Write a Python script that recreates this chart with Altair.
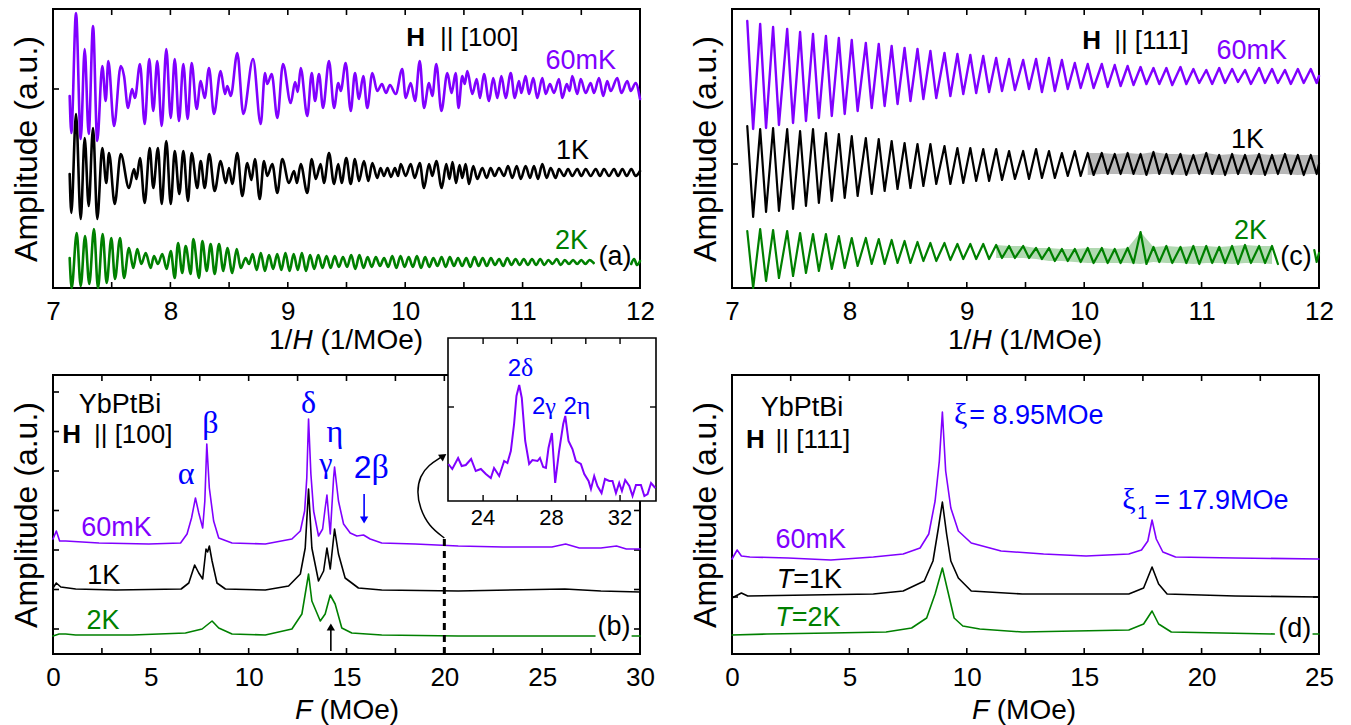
import altair as alt
import pandas as pd

PURPLE = "#8000FF"
GREEN = "#008000"
BLUE = "#0000FF"
BLACK = "#000000"
SANS = "Liberation Sans"
SERIF = "Liberation Serif"
W, H = 587, 279
TICK = 6

# ---------------- panel (a): 1/H oscillations, H || [100] ----------------
A_X_LABELS = [7, 8, 9, 10, 11, 12]
A_X_TICKS = [7.5, 8, 8.5, 9, 9.5, 10, 10.5, 11, 11.5]
A_Y_TICKS = [19.9]

A_P_X = [
    7.142, 7.156, 7.196, 7.236, 7.270, 7.304, 7.341, 7.377, 7.420, 7.449,
    7.471, 7.520, 7.577, 7.605, 7.639, 7.673, 7.698, 7.741, 7.781, 7.820,
    7.854, 7.888, 7.926, 7.965, 8.003, 8.037, 8.073, 8.110, 8.147, 8.181,
    8.224, 8.258, 8.292, 8.329, 8.371, 8.428, 8.465, 8.485, 8.514, 8.570,
    8.621, 8.704, 8.769, 8.806, 8.825, 8.863, 8.911, 8.959, 9.025, 9.062,
    9.085, 9.110, 9.166, 9.204, 9.232, 9.266, 9.300, 9.351, 9.394, 9.430,
    9.451, 9.493, 9.536, 9.572, 9.606, 9.643, 9.677, 9.720, 9.762, 9.802,
    9.836, 9.870, 9.919, 9.975, 10.004, 10.047, 10.084, 10.124, 10.160, 10.203,
    10.231, 10.265, 10.308, 10.359, 10.395, 10.430, 10.454, 10.486, 10.507, 10.529,
    10.572, 10.609, 10.637, 10.671, 10.714, 10.750, 10.785, 10.819, 10.856, 10.899,
    10.933, 10.969, 10.989, 11.026, 11.055, 11.091, 11.125, 11.168, 11.197, 11.233,
    11.267, 11.310, 11.338, 11.376, 11.400, 11.423, 11.466, 11.495, 11.537, 11.580,
    11.608, 11.651, 11.687, 11.721, 11.750, 11.807, 11.841, 11.892, 11.921, 11.963,
    12.000]
A_P_Y = [
    19.2, 15.5, 27.5, 14.9, 23.9, 15.4, 26.2, 14.7, 22.2, 18.7,
    22.7, 16.2, 22.2, 21.2, 18.0, 19.9, 19.0, 22.4, 16.4, 22.9,
    17.7, 22.7, 16.2, 23.9, 17.0, 22.9, 16.7, 22.4, 16.9, 22.5,
    17.9, 20.7, 19.0, 22.0, 17.4, 21.7, 19.4, 20.2, 19.2, 23.5,
    17.4, 22.9, 16.4, 21.5, 20.4, 21.4, 17.0, 22.4, 18.5, 20.6,
    19.6, 22.0, 17.2, 21.5, 18.7, 21.4, 18.0, 22.7, 18.0, 20.5,
    19.7, 22.5, 17.7, 21.5, 18.9, 21.2, 18.0, 21.5, 19.7, 20.4,
    19.5, 20.3, 19.4, 21.9, 19.0, 20.5, 18.7, 22.7, 18.0, 20.5,
    19.2, 22.4, 17.7, 21.5, 19.5, 21.5, 18.0, 21.2, 20.4, 21.7,
    19.4, 20.9, 19.0, 21.4, 18.7, 21.0, 19.0, 21.2, 19.0, 21.5,
    19.0, 20.7, 19.5, 21.2, 19.4, 21.0, 19.0, 21.0, 19.4, 20.4,
    19.5, 20.9, 19.0, 20.4, 19.7, 21.2, 19.4, 20.9, 19.5, 20.5,
    19.5, 21.0, 19.2, 20.7, 19.7, 21.0, 19.5, 20.7, 19.7, 20.5,
    18.9]

A_K_X = [
    7.142, 7.156, 7.196, 7.236, 7.270, 7.304, 7.341, 7.377, 7.420, 7.454,
    7.477, 7.526, 7.577, 7.647, 7.690, 7.711, 7.741, 7.781, 7.824, 7.854,
    7.894, 7.926, 7.965, 8.003, 8.037, 8.076, 8.110, 8.150, 8.181, 8.229,
    8.258, 8.292, 8.331, 8.377, 8.428, 8.471, 8.499, 8.527, 8.570, 8.612,
    8.655, 8.690, 8.720, 8.761, 8.797, 8.825, 8.868, 8.911, 8.953, 9.010,
    9.053, 9.078, 9.110, 9.166, 9.204, 9.238, 9.280, 9.308, 9.351, 9.394,
    9.430, 9.459, 9.498, 9.536, 9.572, 9.606, 9.649, 9.686, 9.720, 9.762,
    9.790, 9.819, 9.849, 9.879, 9.913, 9.939, 9.962, 10.004, 10.047, 10.081,
    10.124, 10.160, 10.203, 10.231, 10.265, 10.311, 10.350, 10.377, 10.403, 10.433,
    10.463, 10.486, 10.515, 10.543, 10.580, 10.614, 10.657, 10.694, 10.728, 10.762,
    10.799, 10.842, 10.876, 10.912, 10.950, 10.984, 11.026, 11.063, 11.097, 11.131,
    11.168, 11.205, 11.239, 11.282, 11.310, 11.353, 11.387, 11.423, 11.466, 11.500,
    11.537, 11.580, 11.623, 11.659, 11.693, 11.736, 11.779, 11.813, 11.850, 11.887,
    11.926, 11.963, 12.000]
A_K_Y = [
    11.4, 7.5, 17.4, 6.9, 15.0, 8.2, 16.0, 6.9, 14.0, 10.5,
    13.5, 8.4, 13.4, 10.0, 11.9, 10.9, 13.0, 8.5, 14.0, 10.0,
    14.0, 8.4, 14.7, 8.4, 13.7, 9.4, 13.7, 8.7, 13.5, 10.0,
    12.7, 10.0, 13.4, 9.7, 12.7, 10.5, 12.0, 10.4, 13.5, 9.2,
    12.5, 10.8, 12.9, 8.9, 12.7, 11.2, 12.4, 9.5, 12.9, 10.5,
    11.7, 10.5, 12.4, 9.5, 12.9, 10.9, 12.4, 10.5, 13.5, 10.4,
    12.4, 10.5, 13.0, 10.4, 12.9, 10.7, 12.7, 10.7, 12.5, 11.0,
    12.0, 11.2, 12.0, 11.1, 12.0, 11.2, 12.4, 11.2, 12.4, 11.0,
    12.5, 10.0, 12.4, 11.2, 12.7, 10.0, 12.4, 10.9, 12.6, 10.5,
    12.3, 11.0, 12.4, 10.4, 12.2, 10.9, 12.0, 11.0, 12.0, 11.2,
    12.0, 11.2, 12.2, 11.0, 12.2, 10.9, 12.2, 11.0, 12.2, 10.9,
    12.4, 11.0, 12.0, 11.0, 11.9, 11.2, 11.9, 11.2, 11.9, 11.2,
    11.9, 11.2, 11.9, 11.2, 11.9, 11.2, 11.9, 11.2, 11.9, 11.2,
    11.9, 11.2, 11.7]

A_G_X = [
    7.142, 7.159, 7.202, 7.236, 7.273, 7.309, 7.349, 7.383, 7.423, 7.457,
    7.497, 7.528, 7.571, 7.605, 7.647, 7.684, 7.718, 7.752, 7.790, 7.832,
    7.860, 7.894, 7.931, 7.968, 8.003, 8.037, 8.065, 8.101, 8.130, 8.173,
    8.195, 8.244, 8.272, 8.309, 8.343, 8.377, 8.414, 8.451, 8.485, 8.527,
    8.565, 8.599, 8.641, 8.670]
A_G_Y = [
    3.0, 0.0, 5.5, 0.2, 5.2, 0.4, 5.9, 0.0, 5.4, 0.5,
    5.0, 0.9, 5.0, 1.0, 4.0, 2.0, 3.9, 2.4, 3.5, 2.0,
    3.2, 2.4, 3.4, 1.9, 3.7, 1.0, 4.5, 1.5, 4.2, 1.4,
    4.9, 1.0, 4.7, 1.7, 4.4, 1.4, 4.4, 1.7, 4.0, 1.5,
    3.9, 2.0, 3.0, 2.4]
A_G_TAIL_X = [
    8.700, 8.735, 8.770, 8.805, 8.840, 8.875, 8.910, 8.945, 8.980, 9.015,
    9.050, 9.085, 9.120, 9.155, 9.190, 9.225, 9.260, 9.295, 9.330, 9.365,
    9.400, 9.435, 9.470, 9.505, 9.540, 9.575, 9.610, 9.645, 9.680, 9.715,
    9.750, 9.785, 9.820, 9.855, 9.890, 9.925, 9.960, 9.995, 10.030, 10.065,
    10.100, 10.135, 10.170, 10.205, 10.240, 10.275, 10.310, 10.345, 10.380, 10.415,
    10.450, 10.485, 10.520, 10.555, 10.590, 10.625, 10.660, 10.695, 10.730, 10.765,
    10.800, 10.835, 10.870, 10.905, 10.940, 10.975, 11.010, 11.045, 11.080, 11.115,
    11.150, 11.185, 11.220, 11.255, 11.290, 11.325, 11.360, 11.395, 11.430, 11.465,
    11.500, 11.535, 11.570, 11.605]
A_G_TAIL_Y = [
    3.4, 1.8, 3.5, 1.7, 3.3, 1.9, 3.4, 1.8, 3.5, 1.7,
    3.4, 1.8, 3.5, 1.7, 3.3, 1.9, 3.3, 2.0, 3.2, 2.0,
    3.2, 2.1, 3.1, 2.1, 3.3, 1.9, 3.3, 2.0, 3.1, 2.1,
    3.1, 2.2, 3.0, 2.1, 3.2, 2.0, 3.2, 2.1, 3.1, 2.1,
    3.2, 2.0, 3.1, 2.1, 3.0, 2.2, 3.1, 2.1, 3.1, 2.2,
    3.0, 2.2, 3.0, 2.1, 3.1, 2.2, 3.0, 2.2, 3.0, 2.3,
    2.9, 2.2, 3.0, 2.3, 2.9, 2.3, 2.9, 2.3, 2.9, 2.3,
    2.9, 2.3, 2.8, 2.4, 2.9, 2.3, 2.8, 2.4, 2.8, 2.4,
    2.8, 2.4, 2.8, 2.5]
A_G_END_X = [11.925, 11.950, 11.975, 12.000]
A_G_END_Y = [2.4, 2.9, 2.3, 2.7]

# ---------------- panel (c): 1/H oscillations, H || [111] ----------------
C_X_LABELS = [7, 8, 9, 10, 11, 12]
C_X_TICKS = [7.5, 8, 8.5, 9, 9.5, 10, 10.5, 11, 11.5]
C_Y_TICKS = [12.4]
C_MAX_X = [
    7.13, 7.24, 7.35, 7.47, 7.58, 7.69, 7.80, 7.91, 8.02, 8.14,
    8.25, 8.36, 8.47, 8.58, 8.69, 8.81, 8.92, 9.03, 9.14, 9.25,
    9.36, 9.48, 9.59, 9.70, 9.81, 9.92, 10.03, 10.15, 10.26, 10.37,
    10.48, 10.59, 10.70, 10.82, 10.93, 11.04, 11.15, 11.26, 11.37, 11.49,
    11.60, 11.71, 11.82, 11.93]
C_MIN_X = [
    7.18, 7.29, 7.40, 7.52, 7.63, 7.74, 7.85, 7.96, 8.07, 8.19,
    8.30, 8.41, 8.52, 8.63, 8.74, 8.86, 8.97, 9.08, 9.19, 9.30,
    9.41, 9.53, 9.64, 9.75, 9.86, 9.97, 10.08, 10.20, 10.31, 10.42,
    10.53, 10.64, 10.75, 10.87, 10.98, 11.09, 11.20, 11.31, 11.42, 11.54,
    11.65, 11.76, 11.87, 11.98]
C_P_MAX = [
    26.7, 26.4, 26.1, 25.9, 25.6, 25.4, 25.2, 25.0, 24.8, 24.5,
    24.4, 24.2, 24.0, 23.9, 23.7, 23.5, 23.4, 23.3, 23.2, 23.0,
    22.9, 22.8, 22.9, 23.0, 22.8, 22.5, 22.4, 22.4, 22.3, 22.2,
    22.1, 22.0, 22.0, 22.1, 21.9, 21.8, 22.0, 21.9, 21.8, 22.0,
    21.9, 21.8, 21.9, 21.9]
C_P_MIN = [
    15.9, 16.0, 16.3, 16.5, 16.7, 17.0, 17.2, 17.4, 17.7, 18.0,
    18.2, 18.4, 18.7, 18.9, 19.0, 19.2, 19.4, 19.5, 19.6, 19.7,
    19.8, 19.9, 19.6, 19.7, 19.9, 20.0, 20.0, 20.1, 20.2, 20.3,
    20.4, 20.4, 20.3, 20.4, 20.5, 20.4, 20.5, 20.6, 20.4, 20.5,
    20.5, 20.4, 20.5, 20.5]
C_P_END = 21.2
C_K_MAX = [
    16.2, 15.9, 16.0, 15.9, 15.7, 15.9, 15.5, 15.4, 15.2, 15.0,
    14.9, 14.7, 14.5, 14.4, 14.4, 14.2, 14.0, 14.0, 13.9, 13.9,
    13.7, 13.7, 13.9, 13.7, 13.5, 13.7, 13.5, 13.5, 13.4, 13.5,
    13.4, 13.6, 13.4, 13.4, 13.3, 13.5, 13.3, 13.4, 13.3, 13.4,
    13.3, 13.4, 13.3, 13.3]
C_K_MIN = [
    7.1, 7.6, 7.7, 7.9, 8.2, 8.5, 8.7, 9.0, 9.2, 9.4,
    9.7, 9.9, 10.0, 10.2, 10.4, 10.4, 10.5, 10.7, 10.7, 10.8,
    10.9, 10.9, 11.0, 11.0, 11.2, 11.2, 11.3, 11.4, 11.4, 11.4,
    11.3, 11.4, 11.4, 11.3, 11.4, 11.4, 11.3, 11.4, 11.4, 11.3,
    11.4, 11.4, 11.3, 11.4]
C_K_END = 12.4
C_G_MAX = [
    5.7, 5.9, 5.8, 5.7, 5.5, 5.4, 5.4, 5.2, 5.0, 5.0,
    4.9, 4.8, 4.7, 4.6, 4.5, 4.5, 4.4, 4.4, 4.4, 4.3,
    4.2, 4.2, 4.0, 4.0, 3.9, 3.9, 4.0, 4.0, 3.9, 4.0,
    5.6, 4.1, 4.2, 4.1, 4.2, 4.2, 4.1, 4.2, 4.3, 4.2,
    4.2, 4.3, 4.2, 4.2]
C_G_MIN = [
    0.0, 0.7, 1.0, 1.2, 1.5, 1.7, 1.9, 2.0, 2.2, 2.4,
    2.4, 2.5, 2.5, 2.7, 2.7, 2.8, 2.9, 2.9, 2.9, 3.0,
    3.0, 3.0, 2.9, 2.7, 2.7, 2.6, 2.5, 2.5, 2.5, 2.5,
    2.4, 2.6, 2.5, 2.5, 2.4, 2.5, 2.5, 2.4, 2.5, 2.5,
    2.4, 2.5, 2.4, 2.5]
C_G_CYCLES = 41
C_G_END_X = [11.96, 11.98, 12.00]
C_G_END_Y = [3.8, 2.6, 3.5]
C_BAND_K_FROM = 26   # cycle index where the 1K trace turns into a noisy band
C_BAND_G_FROM = 19   # same for 2K

# ---------------- panel (b): FFT, H || [100] ----------------
B_X_LABELS = [0, 5, 10, 15, 20, 25, 30]
B_X_TICKS = [2.5, 5, 7.5, 10, 12.5, 15, 17.5, 20, 22.5, 25, 27.5]
B_Y_TICKS = [2.5, 6.45, 10.4, 14.35, 18.3, 22.25, 26.2]
B_P_F = [0.0, 0.17, 0.34, 0.65, 2.35, 4.90, 6.52, 6.85, 7.08, 7.28,
         7.45, 7.65, 7.76, 7.86, 7.99, 8.21, 8.47, 9.15, 10.85, 12.21,
         12.64, 12.86, 12.97, 13.06, 13.18, 13.32, 13.57, 13.78, 13.91, 14.00,
         14.17, 14.34, 14.39, 14.59, 14.85, 15.19, 15.53, 15.87, 16.21, 16.80,
         18.51, 20.71, 23.00, 25.50, 26.20, 26.90, 28.00, 28.80, 29.30, 30.00]
B_P_A = [11.5, 12.3, 11.3, 11.3, 11.1, 11.0, 11.1, 12.0, 13.6, 15.6,
         14.1, 12.6, 15.3, 21.0, 16.6, 13.3, 11.6, 11.1, 11.0, 11.5,
         12.3, 14.3, 17.6, 23.5, 18.0, 14.3, 11.8, 12.5, 14.6, 15.9,
         12.0, 17.6, 18.7, 15.3, 13.0, 12.1, 11.8, 11.9, 11.5, 11.1,
         11.0, 10.8, 10.7, 10.7, 11.0, 10.6, 10.6, 10.8, 10.5, 10.5]
B_K_F = [0.0, 0.17, 0.40, 1.16, 3.20, 6.55, 6.94, 7.24, 7.45, 7.65,
         7.82, 7.90, 7.99, 8.13, 8.38, 8.81, 10.85, 12.04, 12.64, 12.89,
         13.06, 13.23, 13.57, 13.83, 14.00, 14.17, 14.39, 14.59, 14.93, 15.61,
         16.80, 20.71, 26.16, 28.00, 30.00]
B_K_A = [6.6, 7.1, 6.7, 6.5, 6.4, 6.5, 7.1, 8.9, 8.1, 7.5,
         10.5, 10.2, 10.8, 9.3, 7.1, 6.5, 6.4, 6.8, 8.0, 10.6,
         16.5, 10.6, 7.3, 8.3, 10.6, 8.5, 12.5, 10.0, 7.6, 6.6,
         6.4, 6.3, 6.5, 6.3, 6.2]
B_G_F = [0.0, 0.31, 0.65, 1.16, 4.05, 6.77, 7.62, 8.13, 8.47, 9.15,
         10.85, 12.21, 12.72, 13.06, 13.23, 13.66, 13.91, 14.17, 14.42, 14.76,
         15.27, 16.80, 20.71, 27.70]
B_G_A = [1.8, 2.0, 2.0, 1.9, 1.9, 2.1, 2.5, 3.3, 2.6, 2.0,
         1.9, 2.5, 4.0, 8.0, 5.3, 3.3, 4.0, 5.9, 5.0, 2.6,
         2.1, 1.9, 1.8, 1.8]
B_G_END_F = [29.6, 30.0]
B_G_END_A = [1.8, 1.8]
B_DASH_F = [20.0]
B_DASH_TOP = [11.8]
B_ARC_F = [20.0, 19.2, 18.75, 18.6, 18.75, 19.2, 19.85]
B_ARC_A = [11.6, 12.8, 14.6, 16.2, 17.8, 18.9, 19.7]
B_ARC_HEAD = (19.95, 19.8)
B_ARROW_2B = (15.9, 16.0, 13.4)   # F, from, to
B_ARROW_UP = (14.2, 0.3, 2.7)

# inset of (b)
IN_X_DOMAIN = [21.95, 34.1]
IN_Y_DOMAIN = [0.0, 16.3]
IN_X_TICKS = [24, 26, 28, 30, 32]
IN_X_LABELS = [24, 28, 32]
IN_Y_TICKS = [9.4]
IN_F = [21.97, 22.20, 22.54, 22.75, 22.99, 23.30, 23.57, 23.87, 24.16, 24.45,
        24.64, 24.94, 25.23, 25.42, 25.62, 25.81, 25.95, 26.11, 26.26, 26.46,
        26.69, 26.88, 27.18, 27.32, 27.51, 27.67, 27.82, 28.02, 28.21, 28.44,
        28.68, 28.80, 28.99, 29.22, 29.42, 29.71, 29.91, 30.16, 30.30, 30.49,
        30.68, 30.92, 31.12, 31.37, 31.56, 31.76, 31.95, 32.11, 32.30, 32.54,
        32.73, 32.93, 33.22, 33.42, 33.61, 33.81, 34.06]
IN_A = [3.7, 3.2, 4.3, 3.5, 3.6, 4.2, 3.0, 3.2, 2.7, 2.3,
        3.3, 2.5, 4.0, 3.8, 5.0, 7.7, 10.5, 11.6, 10.3, 6.0,
        3.7, 4.1, 4.0, 4.3, 3.4, 3.3, 5.3, 6.8, 1.8, 5.0,
        7.7, 8.5, 6.0, 5.2, 4.0, 3.7, 2.7, 2.0, 1.2, 2.5,
        1.5, 0.8, 2.2, 2.0, 2.0, 0.8, 1.8, 1.0, 2.1, 1.5,
        0.5, 1.6, 1.6, 0.5, 0.7, 1.8, 1.3]

# ---------------- panel (d): FFT, H || [111] ----------------
D_X_LABELS = [0, 5, 10, 15, 20, 25]
D_X_TICKS = [2.5, 5, 7.5, 10, 12.5, 15, 17.5, 20, 22.5]
D_Y_TICKS = [5.7]
D_P_F = [0.0, 0.22, 0.40, 0.76, 2.39, 4.21, 6.02, 7.29, 8.01, 8.38,
         8.65, 8.83, 8.96, 9.10, 9.32, 9.64, 10.19, 11.46, 13.27, 15.08,
         16.90, 17.44, 17.71, 17.89, 18.07, 18.35, 18.89, 21.43, 25.0]
D_P_A = [9.5, 10.4, 9.8, 9.7, 9.6, 9.4, 9.7, 10.0, 10.6, 12.0,
         15.3, 19.3, 24.2, 18.3, 14.6, 12.3, 11.1, 10.3, 10.0, 9.8,
         10.0, 10.4, 11.3, 13.4, 11.5, 10.2, 9.7, 9.6, 9.5]
D_K_F = [0.0, 0.40, 0.67, 3.30, 6.02, 7.29, 8.19, 8.56, 8.79, 8.96,
         9.14, 9.32, 9.64, 10.19, 12.36, 16.90, 17.53, 17.89, 18.17, 18.53,
         21.43, 25.0]
D_K_A = [5.6, 6.1, 5.8, 5.9, 6.0, 6.3, 7.3, 9.3, 12.6, 15.2,
         12.0, 9.3, 7.6, 6.3, 6.0, 6.0, 6.6, 8.7, 7.0, 6.0,
         5.8, 5.7]
D_G_F = [0.0, 1.49, 4.21, 6.56, 7.65, 8.29, 8.65, 8.96, 9.19, 9.46,
         9.83, 10.55, 12.36, 16.90, 17.53, 17.89, 18.17, 18.71, 23.10]
D_G_A = [1.9, 2.0, 2.1, 2.2, 2.6, 3.6, 6.0, 8.6, 6.3, 3.6,
         2.8, 2.5, 2.2, 2.4, 3.0, 4.3, 3.0, 2.2, 2.0]
D_G_END_F = [24.75, 25.0]
D_G_END_A = [2.0, 2.0]

ONE = pd.DataFrame({"d": [0]})


def interleave(a, b):
    out = []
    for p, q in zip(a, b):
        out += [p, q]
    return out


def line_df(xs, ys, seg="s1"):
    return pd.DataFrame({"x": xs, "y": ys, "seg": [seg] * len(xs)})


def make_enc(xdom, ydom, xlabels):
    xs = alt.Scale(domain=xdom, nice=False, zero=False)
    ys = alt.Scale(domain=ydom, nice=False, zero=False)
    xa = alt.Axis(values=xlabels, title=None, ticks=False, tickSize=0, domain=False, grid=False,
                  labelFont=SANS, labelFontSize=26, labelColor=BLACK, labelPadding=10,
                  format="d", labelOverlap=False, labelFlush=False)
    ya = alt.Axis(title="Amplitude (a.u.)", labels=False, ticks=False, tickSize=0, domain=False,
                  grid=False, titleFont=SANS, titleFontSize=32, titleFontWeight="normal",
                  titleColor=BLACK, titlePadding=10)
    X = lambda f: alt.X(f, type="quantitative", scale=xs, axis=xa)
    Y = lambda f: alt.Y(f, type="quantitative", scale=ys, axis=ya)
    return X, Y


def trace(df, X, Y, color, width, interp="linear"):
    return alt.Chart(df).mark_line(color=color, strokeWidth=width, interpolate=interp,
                                   strokeJoin="round", strokeCap="round").encode(
        x=X("x"), y=Y("y"), detail="seg:N")


def frame():
    return alt.Chart(ONE).mark_rect(filled=False, stroke=BLACK, strokeWidth=2).encode(
        x=alt.value(0), x2=alt.value(W), y=alt.value(0), y2=alt.value(H))


def ticks(X, Y, xt, yt, right=False):
    dfx = pd.DataFrame({"v": xt})
    dfy = pd.DataFrame({"v": yt})
    r = dict(color=BLACK, strokeWidth=1.6)
    out = [
        alt.Chart(dfx).mark_rule(**r).encode(x=X("v"), y=alt.value(H), y2=alt.value(H - TICK)),
        alt.Chart(dfx).mark_rule(**r).encode(x=X("v"), y=alt.value(0), y2=alt.value(TICK)),
        alt.Chart(dfy).mark_rule(**r).encode(y=Y("v"), x=alt.value(0), x2=alt.value(TICK)),
    ]
    if right:
        out.append(alt.Chart(dfy).mark_rule(**r).encode(y=Y("v"), x=alt.value(W), x2=alt.value(W - TICK)))
    return out


def txt(X, Y, x, y, s, color=BLACK, size=27, font=SANS, align="center", style="normal", weight="normal"):
    df = pd.DataFrame({"x": [x], "y": [y]})
    return alt.Chart(df).mark_text(text=s, color=color, fontSize=size, font=font, align=align,
                                   baseline="alphabetic", fontStyle=style, fontWeight=weight).encode(
        x=X("x"), y=Y("y"))


def ptxt(px, py, s, size=28, style="normal", align="left"):
    return alt.Chart(ONE).mark_text(text=s, color=BLACK, fontSize=size, font=SANS, align=align,
                                    baseline="alphabetic", fontStyle=style).encode(
        x=alt.value(px), y=alt.value(py))


def title_inv_h():
    return [ptxt(239.4, 340, "1/", align="right"), ptxt(239.4, 340, "H", style="italic"),
            ptxt(267.4, 340, "(1/MOe)")]


# ---------------- build (a) ----------------
XA, YA = make_enc([7, 12], [0, 27.9], A_X_LABELS)
a_green = pd.concat([line_df(A_G_X + A_G_TAIL_X, A_G_Y + A_G_TAIL_Y, "s1"),
                     line_df(A_G_END_X, A_G_END_Y, "s2")])
a_layers = [frame()] + ticks(XA, YA, A_X_TICKS, A_Y_TICKS) + [
    trace(a_green, XA, YA, GREEN, 2.6, "monotone"),
    trace(line_df(A_K_X, A_K_Y), XA, YA, BLACK, 2.6, "monotone"),
    trace(line_df(A_P_X, A_P_Y), XA, YA, PURPLE, 2.6, "monotone"),
    txt(XA, YA, 10.169, 24.2, "H", size=26, align="right", weight="bold"),
    txt(XA, YA, 10.296, 24.2, "|| [100]", size=26, align="left"),
    txt(XA, YA, 11.796, 21.9, "60mK", color=PURPLE, align="right"),
    txt(XA, YA, 11.566, 12.9, "1K", align="right"),
    txt(XA, YA, 11.557, 3.9, "2K", color=GREEN, align="right"),
    txt(XA, YA, 11.787, 2.3, "(a)"),
] + title_inv_h()
panel_a = alt.layer(*a_layers).properties(width=W, height=H)

# ---------------- build (c) ----------------
XC, YC = make_enc([7, 12], [0, 27.9], C_X_LABELS)
cx = interleave(C_MAX_X, C_MIN_X)
c_p = line_df(cx + [12.0], interleave(C_P_MAX, C_P_MIN) + [C_P_END])
c_k = line_df(cx + [12.0], interleave(C_K_MAX, C_K_MIN) + [C_K_END])
c_g_y = interleave(C_G_MAX, C_G_MIN)
c_g = pd.concat([line_df(cx[:2 * C_G_CYCLES], c_g_y[:2 * C_G_CYCLES], "s1"),
                 line_df(C_G_END_X, C_G_END_Y, "s2")])
band_k = pd.DataFrame({"x": C_MAX_X[C_BAND_K_FROM:] + [12.0],
                       "hi": C_K_MAX[C_BAND_K_FROM:] + [C_K_MAX[-1]],
                       "lo": C_K_MIN[C_BAND_K_FROM:] + [C_K_MIN[-1]]})
band_g = pd.DataFrame({"x": C_MAX_X[C_BAND_G_FROM:C_G_CYCLES],
                       "hi": C_G_MAX[C_BAND_G_FROM:C_G_CYCLES],
                       "lo": C_G_MIN[C_BAND_G_FROM:C_G_CYCLES]})
c_layers = [frame()] + ticks(XC, YC, C_X_TICKS, C_Y_TICKS) + [
    alt.Chart(band_g).mark_area(color=GREEN, opacity=0.3).encode(x=XC("x"), y=YC("hi"), y2=alt.Y2("lo")),
    alt.Chart(band_k).mark_area(color=BLACK, opacity=0.28).encode(x=XC("x"), y=YC("hi"), y2=alt.Y2("lo")),
    trace(c_g, XC, YC, GREEN, 2.2),
    trace(c_k, XC, YC, BLACK, 2.2),
    trace(c_p, XC, YC, PURPLE, 2.4),
    txt(XC, YC, 10.144, 23.9, "H", size=26, align="right", weight="bold"),
    txt(XC, YC, 10.255, 23.9, "|| [111]", size=26, align="left"),
    txt(XC, YC, 11.727, 22.9, "60mK", color=PURPLE, align="right"),
    txt(XC, YC, 11.532, 14.0, "1K", align="right"),
    txt(XC, YC, 11.557, 4.9, "2K", color=GREEN, align="right"),
    txt(XC, YC, 11.804, 2.3, "(c)"),
] + title_inv_h()
panel_c = alt.layer(*c_layers).properties(width=W, height=H)

# ---------------- build (b) ----------------
XB, YB = make_enc([0, 30], [0, 27.9], B_X_LABELS)
b_green = pd.concat([line_df(B_G_F, B_G_A, "s1"), line_df(B_G_END_F, B_G_END_A, "s2")])
dash_df = pd.DataFrame({"x": B_DASH_F, "y0": [0.0], "y1": B_DASH_TOP})
arc_df = pd.DataFrame({"x": B_ARC_F, "y": B_ARC_A, "o": list(range(len(B_ARC_F)))})
head_df = pd.DataFrame({"x": [B_ARC_HEAD[0]], "y": [B_ARC_HEAD[1]]})
a2b = pd.DataFrame({"x": [B_ARROW_2B[0]], "y0": [B_ARROW_2B[1]], "y1": [B_ARROW_2B[2]]})
aup = pd.DataFrame({"x": [B_ARROW_UP[0]], "y0": [B_ARROW_UP[1]], "y1": [B_ARROW_UP[2]]})
b_layers = [frame()] + ticks(XB, YB, B_X_TICKS, B_Y_TICKS, right=True) + [
    trace(b_green, XB, YB, GREEN, 1.6),
    trace(line_df(B_K_F, B_K_A), XB, YB, BLACK, 1.6),
    trace(line_df(B_P_F, B_P_A), XB, YB, PURPLE, 1.6),
    alt.Chart(dash_df).mark_rule(color=BLACK, strokeWidth=3, strokeDash=[7, 5]).encode(
        x=XB("x"), y=YB("y0"), y2=alt.Y2("y1")),
    alt.Chart(arc_df).mark_line(color=BLACK, strokeWidth=1.5, interpolate="basis").encode(
        x=XB("x"), y=YB("y"), order="o:Q"),
    alt.Chart(head_df).mark_point(shape="triangle-up", filled=True, color=BLACK, size=70,
                                  angle=55, opacity=1).encode(x=XB("x"), y=YB("y")),
    alt.Chart(a2b).mark_rule(color=BLUE, strokeWidth=1.6).encode(x=XB("x"), y=YB("y0"), y2=alt.Y2("y1")),
    alt.Chart(a2b).mark_point(shape="triangle-down", filled=True, color=BLUE, size=70, opacity=1).encode(
        x=XB("x"), y=YB("y1")),
    alt.Chart(aup).mark_rule(color=BLACK, strokeWidth=1.6).encode(x=XB("x"), y=YB("y0"), y2=alt.Y2("y1")),
    alt.Chart(aup).mark_point(shape="triangle-up", filled=True, color=BLACK, size=70, opacity=1).encode(
        x=XB("x"), y=YB("y1")),
    txt(XB, YB, 3.42, 24.1, "YbPtBi"),
    txt(XB, YB, 1.43, 21.1, "H", size=26, align="right", weight="bold"),
    txt(XB, YB, 2.09, 21.1, "|| [100]", size=26, align="left"),
    txt(XB, YB, 6.81, 17.0, "α", color=BLUE, size=32, font=SERIF),
    txt(XB, YB, 8.04, 22.1, "β", color=BLUE, size=32, font=SERIF),
    txt(XB, YB, 13.06, 24.1, "δ", color=BLUE, size=32, font=SERIF),
    txt(XB, YB, 13.95, 18.1, "γ", color=BLUE, size=30, font=SERIF),
    txt(XB, YB, 14.41, 21.2, "η", color=BLUE, size=32, font=SERIF),
    txt(XB, YB, 16.28, 17.6, "2", color=BLUE, size=32, align="right"),
    txt(XB, YB, 16.28, 17.6, "β", color=BLUE, size=34, font=SERIF, align="left"),
    txt(XB, YB, 3.24, 11.8, "60mK", color=PURPLE),
    txt(XB, YB, 2.60, 7.0, "1K"),
    txt(XB, YB, 2.55, 2.5, "2K", color=GREEN),
    txt(XB, YB, 28.67, 1.9, "(b)"),
    ptxt(241.9, 344, "F", style="italic"),
    ptxt(266.8, 344, "(MOe)"),
]
main_b = alt.layer(*b_layers)

xsI = alt.Scale(domain=IN_X_DOMAIN, range=[395, 603], nice=False, zero=False)
ysI = alt.Scale(domain=IN_Y_DOMAIN, range=[126, -37], nice=False, zero=False)
XI = lambda f: alt.X(f, type="quantitative", scale=xsI, axis=None)
YI = lambda f: alt.Y(f, type="quantitative", scale=ysI, axis=None)
in_box = pd.DataFrame({"x0": [IN_X_DOMAIN[0]], "x1": [IN_X_DOMAIN[1]],
                       "y0": [IN_Y_DOMAIN[0]], "y1": [IN_Y_DOMAIN[1]]})
in_tb = pd.DataFrame({"v": IN_X_TICKS, "y0": [IN_Y_DOMAIN[0]] * len(IN_X_TICKS),
                      "y1": [IN_Y_DOMAIN[0] + 0.6] * len(IN_X_TICKS)})
in_tt = pd.DataFrame({"v": IN_X_TICKS, "y0": [IN_Y_DOMAIN[1]] * len(IN_X_TICKS),
                      "y1": [IN_Y_DOMAIN[1] - 0.6] * len(IN_X_TICKS)})
in_lab = pd.DataFrame({"v": IN_X_LABELS, "y0": [IN_Y_DOMAIN[0]] * len(IN_X_LABELS),
                       "t": [str(v) for v in IN_X_LABELS]})
in_yl = pd.DataFrame({"v": IN_Y_TICKS, "x0": [IN_X_DOMAIN[0]], "x1": [IN_X_DOMAIN[0] + 0.35]})
in_yr = pd.DataFrame({"v": IN_Y_TICKS, "x0": [IN_X_DOMAIN[1]], "x1": [IN_X_DOMAIN[1] - 0.35]})


def itxt(x, y, s, size=24, font=SANS, align="center"):
    df = pd.DataFrame({"x": [x], "y": [y]})
    return alt.Chart(df).mark_text(text=s, color=BLUE, fontSize=size, font=font, align=align,
                                   baseline="alphabetic").encode(x=XI("x"), y=YI("y"))


rr = dict(color=BLACK, strokeWidth=1.4)
inset = alt.layer(
    alt.Chart(in_box).mark_rect(fill="white", stroke=BLACK, strokeWidth=1.6).encode(
        x=XI("x0"), x2=alt.X2("x1"), y=YI("y0"), y2=alt.Y2("y1")),
    alt.Chart(in_tb).mark_rule(**rr).encode(x=XI("v"), y=YI("y0"), y2=alt.Y2("y1")),
    alt.Chart(in_tt).mark_rule(**rr).encode(x=XI("v"), y=YI("y0"), y2=alt.Y2("y1")),
    alt.Chart(in_yl).mark_rule(**rr).encode(y=YI("v"), x=XI("x0"), x2=alt.X2("x1")),
    alt.Chart(in_yr).mark_rule(**rr).encode(y=YI("v"), x=XI("x0"), x2=alt.X2("x1")),
    alt.Chart(in_lab).mark_text(font=SANS, fontSize=22, color=BLACK, baseline="top", dy=7).encode(
        x=XI("v"), y=YI("y0"), text="t:N"),
    alt.Chart(line_df(IN_F, IN_A)).mark_line(color=PURPLE, strokeWidth=2).encode(x=XI("x"), y=YI("y")),
    itxt(26.22, 12.5, "2", align="right"),
    itxt(26.22, 12.5, "δ", size=26, font=SERIF, align="left"),
    itxt(27.63, 8.7, "2", align="right"),
    itxt(27.63, 8.7, "γ", size=24, font=SERIF, align="left"),
    itxt(29.47, 8.7, "2", align="right"),
    itxt(29.47, 8.7, "η", size=26, font=SERIF, align="left"),
)
panel_b = alt.layer(main_b, inset).resolve_scale(x="independent", y="independent").properties(
    width=W, height=H)

# ---------------- build (d) ----------------
XD, YD = make_enc([0, 25], [0, 27.9], D_X_LABELS)
d_green = pd.concat([line_df(D_G_F, D_G_A, "s1"), line_df(D_G_END_F, D_G_END_A, "s2")])
d_layers = [frame()] + ticks(XD, YD, D_X_TICKS, D_Y_TICKS, right=True) + [
    trace(d_green, XD, YD, GREEN, 1.6),
    trace(line_df(D_K_F, D_K_A), XD, YD, BLACK, 1.6),
    trace(line_df(D_P_F, D_P_A), XD, YD, PURPLE, 1.6),
    txt(XD, YD, 2.98, 23.8, "YbPtBi"),
    txt(XD, YD, 1.40, 20.6, "H", size=26, align="right", weight="bold"),
    txt(XD, YD, 1.85, 20.6, "|| [111]", size=26, align="left"),
    txt(XD, YD, 9.46, 23.0, "ξ", color=BLUE, size=30, font=SERIF, align="left"),
    txt(XD, YD, 10.10, 23.0, "= 8.95MOe", color=BLUE, align="left"),
    txt(XD, YD, 16.62, 14.5, "ξ", color=BLUE, size=30, font=SERIF, align="left"),
    txt(XD, YD, 17.26, 13.5, "1", color=BLUE, size=18, align="left"),
    txt(XD, YD, 17.98, 14.5, "= 17.9MOe", color=BLUE, align="left"),
    txt(XD, YD, 3.35, 10.6, "60mK", color=PURPLE),
    txt(XD, YD, 2.61, 6.6, "T", align="right", style="italic"),
    txt(XD, YD, 2.61, 6.6, "=1K", align="left"),
    txt(XD, YD, 2.54, 2.8, "T", color=GREEN, align="right", style="italic"),
    txt(XD, YD, 2.54, 2.8, "=2K", color=GREEN, align="left"),
    txt(XD, YD, 23.97, 1.7, "(d)"),
    ptxt(239.9, 344, "F", style="italic"),
    ptxt(264.8, 344, "(MOe)"),
]
panel_d = alt.layer(*d_layers).properties(width=W, height=H)

chart = alt.concat(
    panel_a, panel_c, panel_b, panel_d,
    columns=2, spacing=alt.RowColnumber(row=87, column=92), bounds="flush"
).properties(
    padding={"left": 10, "top": 8, "right": 5, "bottom": 0}, background="white"
).configure_view(strokeWidth=0)

chart.save("out.html", embed_options={"renderer": "svg", "actions": False})
